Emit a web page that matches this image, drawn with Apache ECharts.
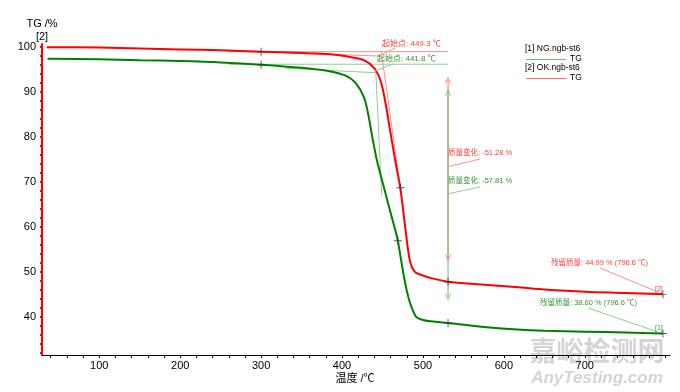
<!DOCTYPE html>
<html><head><meta charset="utf-8">
<script src="https://cdn.jsdelivr.net/npm/echarts@6/dist/echarts.min.js"></script>
<style>html,body{margin:0;padding:0;background:#fff}#c{width:680px;height:392px}</style>
</head><body><div id="c"></div>
<script>
// ---- data ----
const tempOK = [35,100,150,200,250,300,350,386,410,427,440,448,454,460,466,472,478,484,490,498,510,531,572,622,650,700,750,796.6];
const massOK = [100.0,99.9,99.7,99.5,99.3,99.0,98.7,98.4,97.8,97.1,95.3,92.3,87.3,80.8,74.5,68.7,60.0,52.3,50.0,49.3,48.6,47.8,47.2,46.5,46.1,45.6,45.3,44.99];
const tempNG = [36,100,150,200,250,300,350,386,405,417,427,432,438,443,450,458,464,469,474,478,483,488,492,500,510,531,572,622,650,700,750,796.6];
const massNG = [97.4,97.3,97.1,96.9,96.6,96.1,95.4,94.6,93.6,92.0,88.9,85.4,79.4,74.9,70.0,64.5,60.5,56.9,51.5,47.5,43.7,41.2,39.9,39.3,39.0,38.6,37.8,37.1,36.9,36.7,36.5,36.3];
const xLabels = [100,200,300,400,500,600,700];
const yLabels = [40,50,60,70,80,90,100];
const xTicks = [40,60,80,100,120,140,160,180,200,220,240,260,280,300,320,340,360,380,400,420,440,460,480,500,520,540,560,580,600,620,640,660,680,700,720,740,760,780,800];
const yTicks = [32,34,36,38,40,42,44,46,48,50,52,54,56,58,60,62,64,66,68,70,72,74,76,78,80,82,84,86,88,90,92,94,96,98,100];
// annotation values
const onsetOK = 449.3, onsetNG = 441.8;
const baseOK = 99.0, baseNG = 96.2;
const stepTemp = 531;
const arrowOK = [92.7, 53.1], arrowNG = [90.0, 44.4];
const plusOK = [[300,99.0],[472,68.7],[531,47.8],[796.6,44.99]];
const plusNG = [[300,96.1],[469,56.9],[531,38.6],[796.6,36.3]];
const tangOK = [[240,99.3],[onsetOK,98.0]];
const steepOK = [[448.6,98.9],[476,63.6]];
const tangNG = [[330,95.3],[onsetNG,94.3]];
const steepNG = [[441.6,95.0],[449,67.0]];

const RED='#ff0000', GREEN='#008000', PRED='#ff9090', PGREEN='#90cc90', TRED='#ff4040', TGREEN='#3a933a';
const FONT='"Liberation Sans", Arial, "Noto Sans CJK SC", sans-serif';
const zip=(a,b)=>a.map((v,i)=>[v,b[i]]);
const chevron='path://M0,10 L5,0 L10,10 L8.8,10 L5,2.4 L1.2,10 Z';
const plus='path://M4.4,0h1.2v4.4h4.4v1.2h-4.4v4.4h-1.2v-4.4h-4.4v-1.2h4.4z';

function pale(data,color){return {type:'line',data,symbol:'none',silent:true,animation:false,lineStyle:{color,width:1},z:1};}
function arrow(t,vals,color){return {type:'line',data:[[t,vals[0]],[t,vals[1]]],symbol:chevron,symbolSize:[6,7],
  symbolRotate:(v,p)=>p.dataIndex===0?0:180,itemStyle:{color},lineStyle:{color,width:1},silent:true,animation:false,z:2};}

function txt(x,y,text,color,size,align){return {type:'text',left:undefined,x,y,style:{text,fill:color,font:size+'px '+FONT,textAlign:align||'left',textVerticalAlign:'middle'},z:10};}
function ln(x1,y1,x2,y2,color,w){return {type:'line',shape:{x1,y1,x2,y2},style:{stroke:color,lineWidth:w||1},z:10};}

const chart=echarts.init(document.getElementById('c'),null,{renderer:'canvas'});
chart.setOption({
  animation:false,
  grid:{left:42,right:10,top:44,bottom:37,containLabel:false},
  xAxis:{type:'value',min:29.2,max:805.3,
    axisLine:{lineStyle:{color:'#000',width:1}},
    axisTick:{show:true,customValues:xTicks,length:3,lineStyle:{color:'#000'}},
    axisLabel:{customValues:xLabels,color:'#000',fontSize:11,fontFamily:FONT,margin:5},
    splitLine:{show:false}},
  yAxis:{type:'value',min:31.5,max:100.7,
    axisLine:{show:true,lineStyle:{color:RED,width:2}},
    axisTick:{show:true,customValues:yTicks,length:2,lineStyle:{color:RED,width:2}},
    axisLabel:{customValues:yLabels,color:'#000',fontSize:11,fontFamily:FONT,margin:6},
    splitLine:{show:false}},
  series:[
    pale([[260,baseOK],[stepTemp,baseOK]],PRED),
    pale([[260,baseNG],[stepTemp,baseNG]],PGREEN),
    pale(tangOK,PRED), pale(steepOK,PRED),
    pale(tangNG,PGREEN), pale(steepNG,PGREEN),
    arrow(stepTemp,arrowOK,'#ff7070'),
    arrow(stepTemp,arrowNG,'#70bb70'),
    {type:'line',data:zip(tempOK,massOK),symbol:'none',smooth:0.3,lineStyle:{color:RED,width:2},z:3,animation:false},
    {type:'line',data:zip(tempNG,massNG),symbol:'none',smooth:0.3,lineStyle:{color:GREEN,width:2},z:3,animation:false},
    {type:'scatter',data:plusOK.concat(plusNG),symbol:plus,symbolSize:8,itemStyle:{color:'#333'},z:5,silent:true,animation:false}
  ],
  graphic:[
    {type:'text',x:597,y:351,style:{text:'嘉峪检测网',fill:'#d4d4d4',font:'bold 27px "Noto Sans CJK SC", sans-serif',textAlign:'center',textVerticalAlign:'middle'},z:0},
    {type:'text',x:597,y:378,style:{text:'AnyTesting.com',fill:'#d4d4d4',font:'italic bold 17px '+FONT,textAlign:'center',textVerticalAlign:'middle'},z:0},
    txt(42,24,'TG /%','#000',11,'center'),
    txt(42,37,'[2]','#000',11,'center'),
    txt(355,379,'温度 /℃','#000',11,'center'),
    txt(382,44,'起始点: 449.3 ℃',TRED,8),
    txt(377,59,'起始点: 441.8 ℃',TGREEN,8),
    ln(381,55,395,48,PRED), ln(375,71,393,64,PGREEN),
    txt(448,153,'质量变化: -51.28 %',TRED,7.5),
    txt(448,181,'质量变化: -57.81 %',TGREEN,7.5),
    ln(447,167,480,159,PRED), ln(447,194,480,187,PGREEN),
    txt(551,263,'残留质量: 44.99 % (796.6 ℃)',TRED,7.5),
    txt(540,303,'残留质量: 38.60 % (796.6 ℃)',TGREEN,7.5),
    ln(600,268,658,292,PRED), ln(588,308,658,332,PGREEN),
    txt(655,289,'[2]',TRED,7), txt(655,328,'[1]',TGREEN,7),
    txt(525,49,'[1] NG.ngb-st6','#000',8.5),
    ln(526,59.5,566,59.5,'#6abf6a',1.2), txt(570,59,'TG','#000',8.5),
    txt(525,68,'[2] OK.ngb-st6','#000',8.5),
    ln(526,78.5,566,78.5,'#ff6a6a',1.2), txt(570,78,'TG','#000',8.5)
  ]
});
</script></body></html>
